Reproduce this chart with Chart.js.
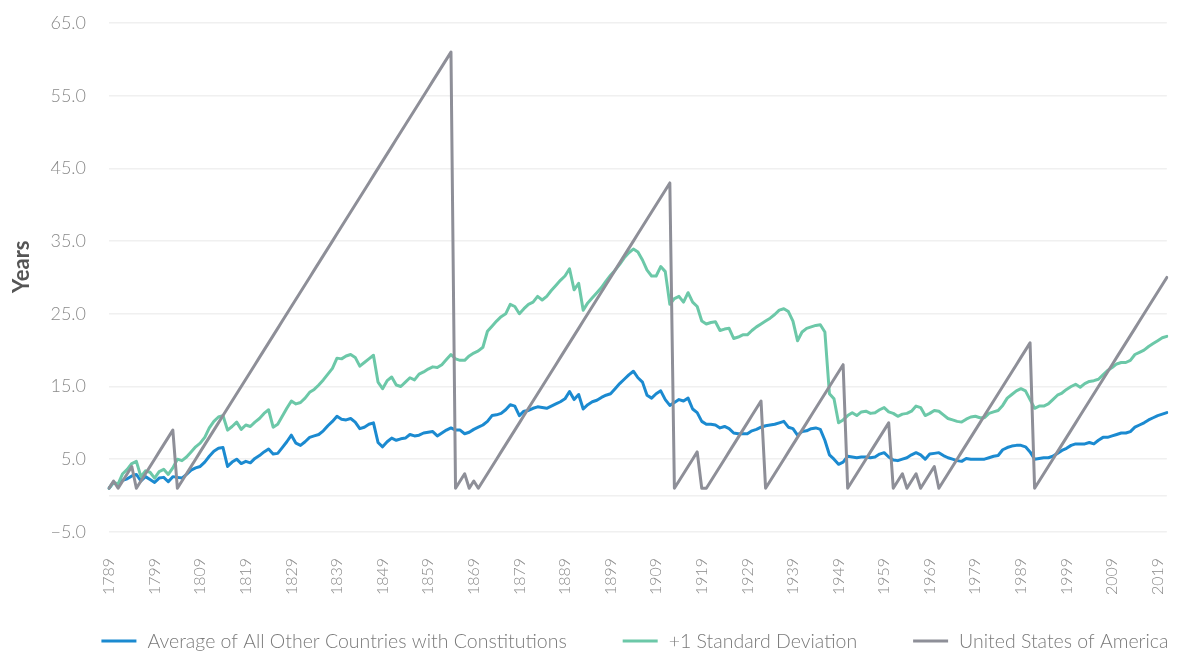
<!DOCTYPE html>
<html lang="en">
  <head>
    <meta charset="UTF-8" />
    <title>Years since last amendment</title>
    <script src="https://cdn.jsdelivr.net/npm/chart.js@4.4.1/dist/chart.umd.min.js"></script>
    <style>
      html, body { margin: 0; padding: 0; background: #fff; }
      #wrap { width: 1177px; height: 652px; position: relative; }
    </style>
  </head>
  <body>
    <div id="wrap"><canvas id="chart"></canvas></div>
    <script>
      // categories: one per year, 1789 .. 2021
      const years = [];
      for (let y = 1789; y <= 2021; y++) years.push(String(y));

      // average of all other countries with constitutions
      const avgOther = [
        1.0, 1.8, 1.4, 2.1, 2.3, 2.7, 2.9, 2.0, 2.6, 2.2,
        1.8, 2.4, 2.5, 1.9, 2.6, 2.5, 2.4, 2.9, 3.5, 3.8,
        4.0, 4.6, 5.4, 6.1, 6.5, 6.6, 4.0, 4.6, 5.0, 4.4,
        4.7, 4.5, 5.1, 5.5, 6.0, 6.4, 5.7, 5.8, 6.6, 7.4,
        8.3, 7.2, 6.9, 7.4, 8.0, 8.2, 8.4, 8.9, 9.6, 10.2,
        10.9, 10.5, 10.4, 10.6, 10.1, 9.2, 9.4, 9.8, 10.0, 7.3,
        6.7, 7.4, 7.9, 7.6, 7.8, 7.9, 8.4, 8.2, 8.3, 8.6,
        8.7, 8.8, 8.2, 8.6, 9.0, 9.3, 9.0, 9.0, 8.5, 8.7,
        9.1, 9.4, 9.7, 10.2, 11.0, 11.1, 11.3, 11.8, 12.5, 12.3,
        11.0, 11.6, 11.7, 12.0, 12.2, 12.1, 12.0, 12.3, 12.6, 12.9,
        13.3, 14.3, 13.2, 13.9, 11.9, 12.5, 12.9, 13.1, 13.5, 13.8,
        14.0, 14.7, 15.4, 16.0, 16.6, 17.1, 16.2, 15.6, 13.8, 13.4,
        14.0, 14.4, 13.2, 12.4, 12.8, 13.2, 13.0, 13.4, 11.9, 11.4,
        10.2, 9.8, 9.8, 9.7, 9.3, 9.5, 9.2, 8.6, 8.5, 8.5,
        8.5, 8.9, 9.1, 9.4, 9.6, 9.7, 9.8, 10.0, 10.2, 9.4,
        9.2, 8.3, 8.8, 8.9, 9.2, 9.3, 9.1, 7.6, 5.6, 5.0,
        4.3, 4.6, 5.4, 5.3, 5.2, 5.3, 5.3, 5.2, 5.3, 5.7,
        5.9, 5.3, 4.9, 4.8, 5.0, 5.2, 5.6, 5.9, 5.6, 5.0,
        5.7, 5.8, 5.9, 5.5, 5.2, 5.0, 4.8, 4.7, 5.1, 5.0,
        5.0, 5.0, 5.0, 5.2, 5.4, 5.5, 6.3, 6.6, 6.8, 6.9,
        6.9, 6.7, 6.0, 5.0, 5.1, 5.2, 5.2, 5.4, 5.8, 6.2,
        6.5, 6.9, 7.1, 7.1, 7.1, 7.3, 7.1, 7.6, 8.0, 8.0,
        8.2, 8.4, 8.6, 8.6, 8.8, 9.4, 9.7, 10.0, 10.4, 10.7,
        11.0, 11.2, 11.4,
      ];

      // +1 standard deviation
      const plusOneSd = [
        1.0, 1.8, 1.6, 3.0, 3.6, 4.4, 4.7, 2.6, 3.4, 3.2,
        2.4, 3.3, 3.6, 2.9, 3.8, 5.0, 4.8, 5.3, 6.0, 6.7,
        7.2, 8.0, 9.3, 10.2, 10.8, 11.0, 9.0, 9.5, 10.1, 9.1,
        9.7, 9.5, 10.1, 10.6, 11.3, 11.8, 9.4, 9.8, 10.9, 12.0,
        13.0, 12.6, 12.8, 13.4, 14.2, 14.6, 15.2, 15.9, 16.7, 17.5,
        18.9, 18.8, 19.2, 19.4, 19.0, 17.8, 18.3, 18.8, 19.3, 15.6,
        14.7, 15.8, 16.3, 15.2, 15.0, 15.6, 16.2, 15.9, 16.7, 17.0,
        17.4, 17.7, 17.6, 18.0, 18.7, 19.4, 18.8, 18.6, 18.6, 19.2,
        19.6, 19.9, 20.4, 22.6, 23.3, 24.0, 24.6, 25.0, 26.3, 26.0,
        25.0, 25.7, 26.3, 26.6, 27.4, 26.9, 27.4, 28.2, 28.9, 29.6,
        30.2, 31.2, 28.3, 29.2, 25.5, 26.5, 27.2, 27.9, 28.6, 29.5,
        30.3, 31.0, 31.8, 32.7, 33.4, 33.9, 33.5, 32.4, 31.0, 30.2,
        30.2, 31.5, 30.8, 26.3, 27.1, 27.4, 26.6, 27.9, 26.6, 26.0,
        24.0, 23.6, 23.8, 23.9, 22.7, 22.9, 23.0, 21.6, 21.8, 22.1,
        22.1, 22.7, 23.2, 23.6, 24.0, 24.4, 24.9, 25.5, 25.7, 25.3,
        24.0, 21.3, 22.5, 23.0, 23.2, 23.4, 23.5, 22.5, 14.0, 13.3,
        10.0, 10.4, 11.0, 11.4, 11.0, 11.5, 11.6, 11.3, 11.4, 11.8,
        12.1, 11.5, 11.3, 10.9, 11.2, 11.3, 11.6, 12.3, 12.1, 11.0,
        11.3, 11.7, 11.6, 11.1, 10.6, 10.4, 10.2, 10.1, 10.5, 10.8,
        10.9, 10.7, 10.7, 11.3, 11.5, 11.7, 12.4, 13.4, 13.9, 14.4,
        14.7, 14.4, 13.2, 12.0, 12.3, 12.3, 12.6, 13.2, 13.8, 14.1,
        14.6, 15.0, 15.3, 14.9, 15.4, 15.7, 15.8, 16.0, 16.6, 17.2,
        17.6, 18.1, 18.3, 18.3, 18.6, 19.4, 19.7, 20.0, 20.5, 20.9,
        21.3, 21.7, 21.9,
      ];

      // United States of America
      const usa = [
        1, 2, 1, 2, 3, 4, 1, 2, 3, 4,
        5, 6, 7, 8, 9, 1, 2, 3, 4, 5,
        6, 7, 8, 9, 10, 11, 12, 13, 14, 15,
        16, 17, 18, 19, 20, 21, 22, 23, 24, 25,
        26, 27, 28, 29, 30, 31, 32, 33, 34, 35,
        36, 37, 38, 39, 40, 41, 42, 43, 44, 45,
        46, 47, 48, 49, 50, 51, 52, 53, 54, 55,
        56, 57, 58, 59, 60, 61, 1, 2, 3, 1,
        2, 1, 2, 3, 4, 5, 6, 7, 8, 9,
        10, 11, 12, 13, 14, 15, 16, 17, 18, 19,
        20, 21, 22, 23, 24, 25, 26, 27, 28, 29,
        30, 31, 32, 33, 34, 35, 36, 37, 38, 39,
        40, 41, 42, 43, 1, 2, 3, 4, 5, 6,
        1, 1, 2, 3, 4, 5, 6, 7, 8, 9,
        10, 11, 12, 13, 1, 2, 3, 4, 5, 6,
        7, 8, 9, 10, 11, 12, 13, 14, 15, 16,
        17, 18, 1, 2, 3, 4, 5, 6, 7, 8,
        9, 10, 1, 2, 3, 1, 2, 3, 1, 2,
        3, 4, 1, 2, 3, 4, 5, 6, 7, 8,
        9, 10, 11, 12, 13, 14, 15, 16, 17, 18,
        19, 20, 21, 1, 2, 3, 4, 5, 6, 7,
        8, 9, 10, 11, 12, 13, 14, 15, 16, 17,
        18, 19, 20, 21, 22, 23, 24, 25, 26, 27,
        28, 29, 30,
      ];

      const seriesNames = [
        "Average of All Other Countries with Constitutions",
        "+1 Standard Deviation",
        "United States of America",
      ];
      const seriesColors = ["#1b8ad0", "#6cc8a8", "#8e8f98"];

      const fontFamily = "Lato, 'Open Sans', sans-serif";

      function line(i, data) {
        return {
          label: seriesNames[i],
          data,
          borderColor: seriesColors[i],
          backgroundColor: seriesColors[i],
          borderWidth: 3,
          pointRadius: 0,
          pointHoverRadius: 0,
          tension: 0,
          fill: false,
          borderJoinStyle: "round",
          borderCapStyle: "round",
        };
      }

      // one-row legend under the plot, centred on the chart area
      const bottomLegend = {
        id: "bottomLegend",
        afterDraw(chart) {
          const ctx = chart.ctx;
          const { left, right } = chart.chartArea;
          const lineLen = 35, gap = 11, spacing = 56;
          ctx.save();
          ctx.font = "300 19.5px " + fontFamily;
          ctx.textBaseline = "middle";
          ctx.textAlign = "left";
          const widths = seriesNames.map(
            (t) => lineLen + gap + ctx.measureText(t).width
          );
          const total =
            widths.reduce((a, b) => a + b, 0) + spacing * (widths.length - 1);
          let x = (left + right) / 2 - 3 - total / 2;
          const y = chart.height - 11;
          seriesNames.forEach((t, i) => {
            ctx.fillStyle = seriesColors[i];
            ctx.fillRect(x, y - 1.5, lineLen, 3);
            ctx.fillStyle = "#7a7a7a";
            ctx.fillText(t, x + lineLen + gap, y + 1);
            x += widths[i] + spacing;
          });
          ctx.restore();
        },
      };

      new Chart(document.getElementById("chart"), {
        type: "line",
        data: {
          labels: years,
          // gray first so it is drawn on top
          datasets: [line(2, usa), line(1, plusOneSd), line(0, avgOther)],
        },
        plugins: [bottomLegend],
        options: {
          responsive: true,
          maintainAspectRatio: false,
          animation: false,
          layout: { padding: { top: 23, right: 9, bottom: 57, left: 0 } },
          plugins: {
            tooltip: { enabled: false },
            legend: { display: false },
          },
          scales: {
            x: {
              grid: {
                display: true,
                drawOnChartArea: false,
                drawTicks: true,
                tickLength: 26,
                color: "rgba(0,0,0,0)",
              },
              border: { display: false },
              ticks: {
                autoSkip: false,
                maxRotation: 90,
                minRotation: 90,
                padding: 0,
                color: "#8a8a8a",
                font: { family: fontFamily, size: 16, weight: "300" },
                callback: function (v, i) {
                  return i % 10 === 0 ? years[i] : null;
                },
              },
            },
            y: {
              min: -5,
              max: 65,
              border: { display: false },
              grid: {
                color: "#f0f0f0",
                lineWidth: 1.5,
                drawTicks: true,
                tickLength: 23,
                tickColor: "rgba(0,0,0,0)",
              },
              afterBuildTicks: (axis) => {
                axis.ticks.push({ value: 0 });
                axis.ticks.sort((a, b) => a.value - b.value);
              },
              afterFit: (axis) => {
                axis.width = 109;
              },
              ticks: {
                stepSize: 10,
                padding: 0,
                color: "#8a8a8a",
                font: { family: fontFamily, size: 18, weight: "300" },
                callback: (v) =>
                  v === 0 ? "" : (v < 0 ? "\u2212" : "") + Math.abs(v).toFixed(1),
              },
              title: {
                display: true,
                text: "    Years",
                color: "#555555",
                font: { family: fontFamily, size: 22, weight: "bold" },
                padding: { top: 9, bottom: 0 },
              },
            },
          },
        },
      });
    </script>
  </body>
</html>
